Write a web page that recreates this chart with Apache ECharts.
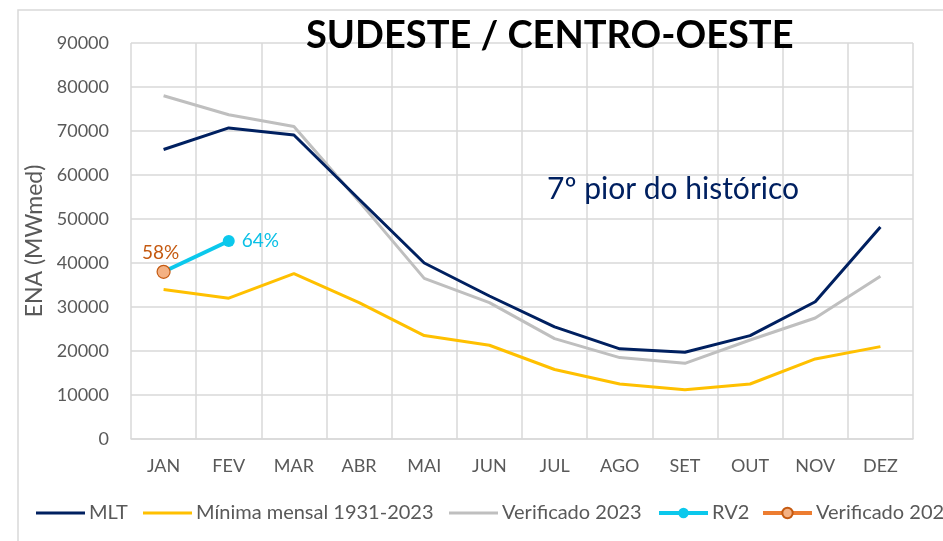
<!DOCTYPE html>
<html>
<head>
<meta charset="utf-8">
<script src="https://cdn.jsdelivr.net/npm/echarts@6/dist/echarts.min.js"></script>
<style>
  html, body { margin: 0; padding: 0; background: #fff; }
  #chart { width: 943px; height: 541px; }
</style>
</head>
<body>
<div id="chart"></div>
<script>
const months = ['JAN', 'FEV', 'MAR', 'ABR', 'MAI', 'JUN', 'JUL', 'AGO', 'SET', 'OUT', 'NOV', 'DEZ'];
const mlt = [65800, 70700, 69100, 54500, 40000, 32500, 25500, 20500, 19700, 23500, 31200, 48200];
const minima = [34000, 32000, 37600, 31000, 23500, 21300, 15800, 12500, 11200, 12500, 18200, 21000];
const verif2023 = [78000, 73700, 71000, 54000, 36500, 31000, 22800, 18500, 17200, 22500, 27500, 37000];
const rv2 = [38000, 45000];
const verif2024 = [38000];
const rv2Pct = ['', '64%'];
const verif2024Pct = ['58%'];

const font = 'Lato';
const myChart = echarts.init(document.getElementById('chart'));

// one legend per entry so each can sit where the original has it
function legendAt(left, name, lineOnly) {
    const item = lineOnly ? {name: name, icon: 'rect'} : {name: name};
    return {
        left: left,
        top: 503,
        padding: 0,
        itemWidth: 49,
        itemHeight: lineOnly ? 3 : 13,
        itemGap: 4,
        lineStyle: {width: 4},
        textStyle: {fontFamily: font, fontSize: 20, color: '#595959', padding: [0, 0, 0, -1]},
        data: [item]
    };
}

const option = {
    animation: false,
    backgroundColor: '#fff',
    graphic: [
        {
            type: 'rect',
            shape: {x: 18, y: 10, width: 1000, height: 600},
            style: {fill: 'none', stroke: '#D9D9D9', lineWidth: 1.5}
        },
        {
            type: 'text',
            left: 306,
            top: 17,
            z: 10,
            style: {text: 'SUDESTE / CENTRO-OESTE', fontFamily: font, fontWeight: 'bold', fontSize: 38, fill: '#000'}
        },
        {
            type: 'text',
            left: 547,
            top: 174,
            z: 10,
            style: {text: '7º pior do histórico', fontFamily: font, fontSize: 30, fill: '#002060'}
        }
    ],
    legend: [
        legendAt(36, 'MLT', true),
        legendAt(143, 'Mínima mensal 1931-2023', true),
        legendAt(449, 'Verificado 2023', true),
        legendAt(657, 'RV2', false),
        legendAt(761, 'Verificado 2024', false)
    ],
    grid: {left: 131, right: 30, top: 43, bottom: 102},
    xAxis: {
        type: 'category',
        data: months,
        boundaryGap: true,
        axisLine: {lineStyle: {color: '#D9D9D9', width: 1.5}},
        axisTick: {show: false},
        splitLine: {show: true, lineStyle: {color: '#D9D9D9', width: 1.5}},
        axisLabel: {fontFamily: font, fontSize: 18, color: '#595959', margin: 18, interval: 0}
    },
    yAxis: {
        type: 'value',
        min: 0,
        max: 90000,
        interval: 10000,
        name: 'ENA (MWmed)',
        nameLocation: 'middle',
        nameGap: 76,
        nameTextStyle: {fontFamily: font, fontSize: 23, color: '#595959'},
        axisLine: {show: false},
        axisTick: {show: false},
        splitLine: {lineStyle: {color: '#D9D9D9', width: 1.5}},
        axisLabel: {
            fontFamily: font, fontSize: 18, color: '#595959', margin: 22,
            formatter: function (v) { return String(v); }
        }
    },
    series: [
        {
            name: 'MLT',
            type: 'line',
            data: mlt,
            symbol: 'none',
            lineStyle: {color: '#002060', width: 3},
            itemStyle: {color: '#002060'},
            z: 4
        },
        {
            name: 'Mínima mensal 1931-2023',
            type: 'line',
            data: minima,
            symbol: 'none',
            lineStyle: {color: '#FFC000', width: 3},
            itemStyle: {color: '#FFC000'},
            z: 3
        },
        {
            name: 'Verificado 2023',
            type: 'line',
            data: verif2023,
            symbol: 'none',
            lineStyle: {color: '#BFBFBF', width: 3},
            itemStyle: {color: '#BFBFBF'},
            z: 2
        },
        {
            name: 'RV2',
            type: 'line',
            data: rv2,
            symbol: 'circle',
            symbolSize: 12,
            lineStyle: {color: '#0BC8EC', width: 4},
            itemStyle: {color: '#0BC8EC'},
            label: {
                show: true,
                position: 'right',
                distance: 7,
                fontFamily: font,
                fontSize: 19,
                color: '#0BC0E6',
                formatter: function (p) { return rv2Pct[p.dataIndex]; }
            },
            z: 5
        },
        {
            name: 'Verificado 2024',
            type: 'line',
            data: verif2024,
            symbol: 'circle',
            symbolSize: 13,
            lineStyle: {color: '#ED7D31', width: 4},
            itemStyle: {color: '#F4B183', borderColor: '#C55A11', borderWidth: 1.2},
            label: {
                show: true,
                position: 'top',
                distance: 2,
                offset: [-3, 0],
                fontFamily: font,
                fontSize: 19,
                color: '#C55A11',
                formatter: function (p) { return verif2024Pct[p.dataIndex]; }
            },
            z: 6
        }
    ]
};

myChart.setOption(option);
</script>
</body>
</html>
